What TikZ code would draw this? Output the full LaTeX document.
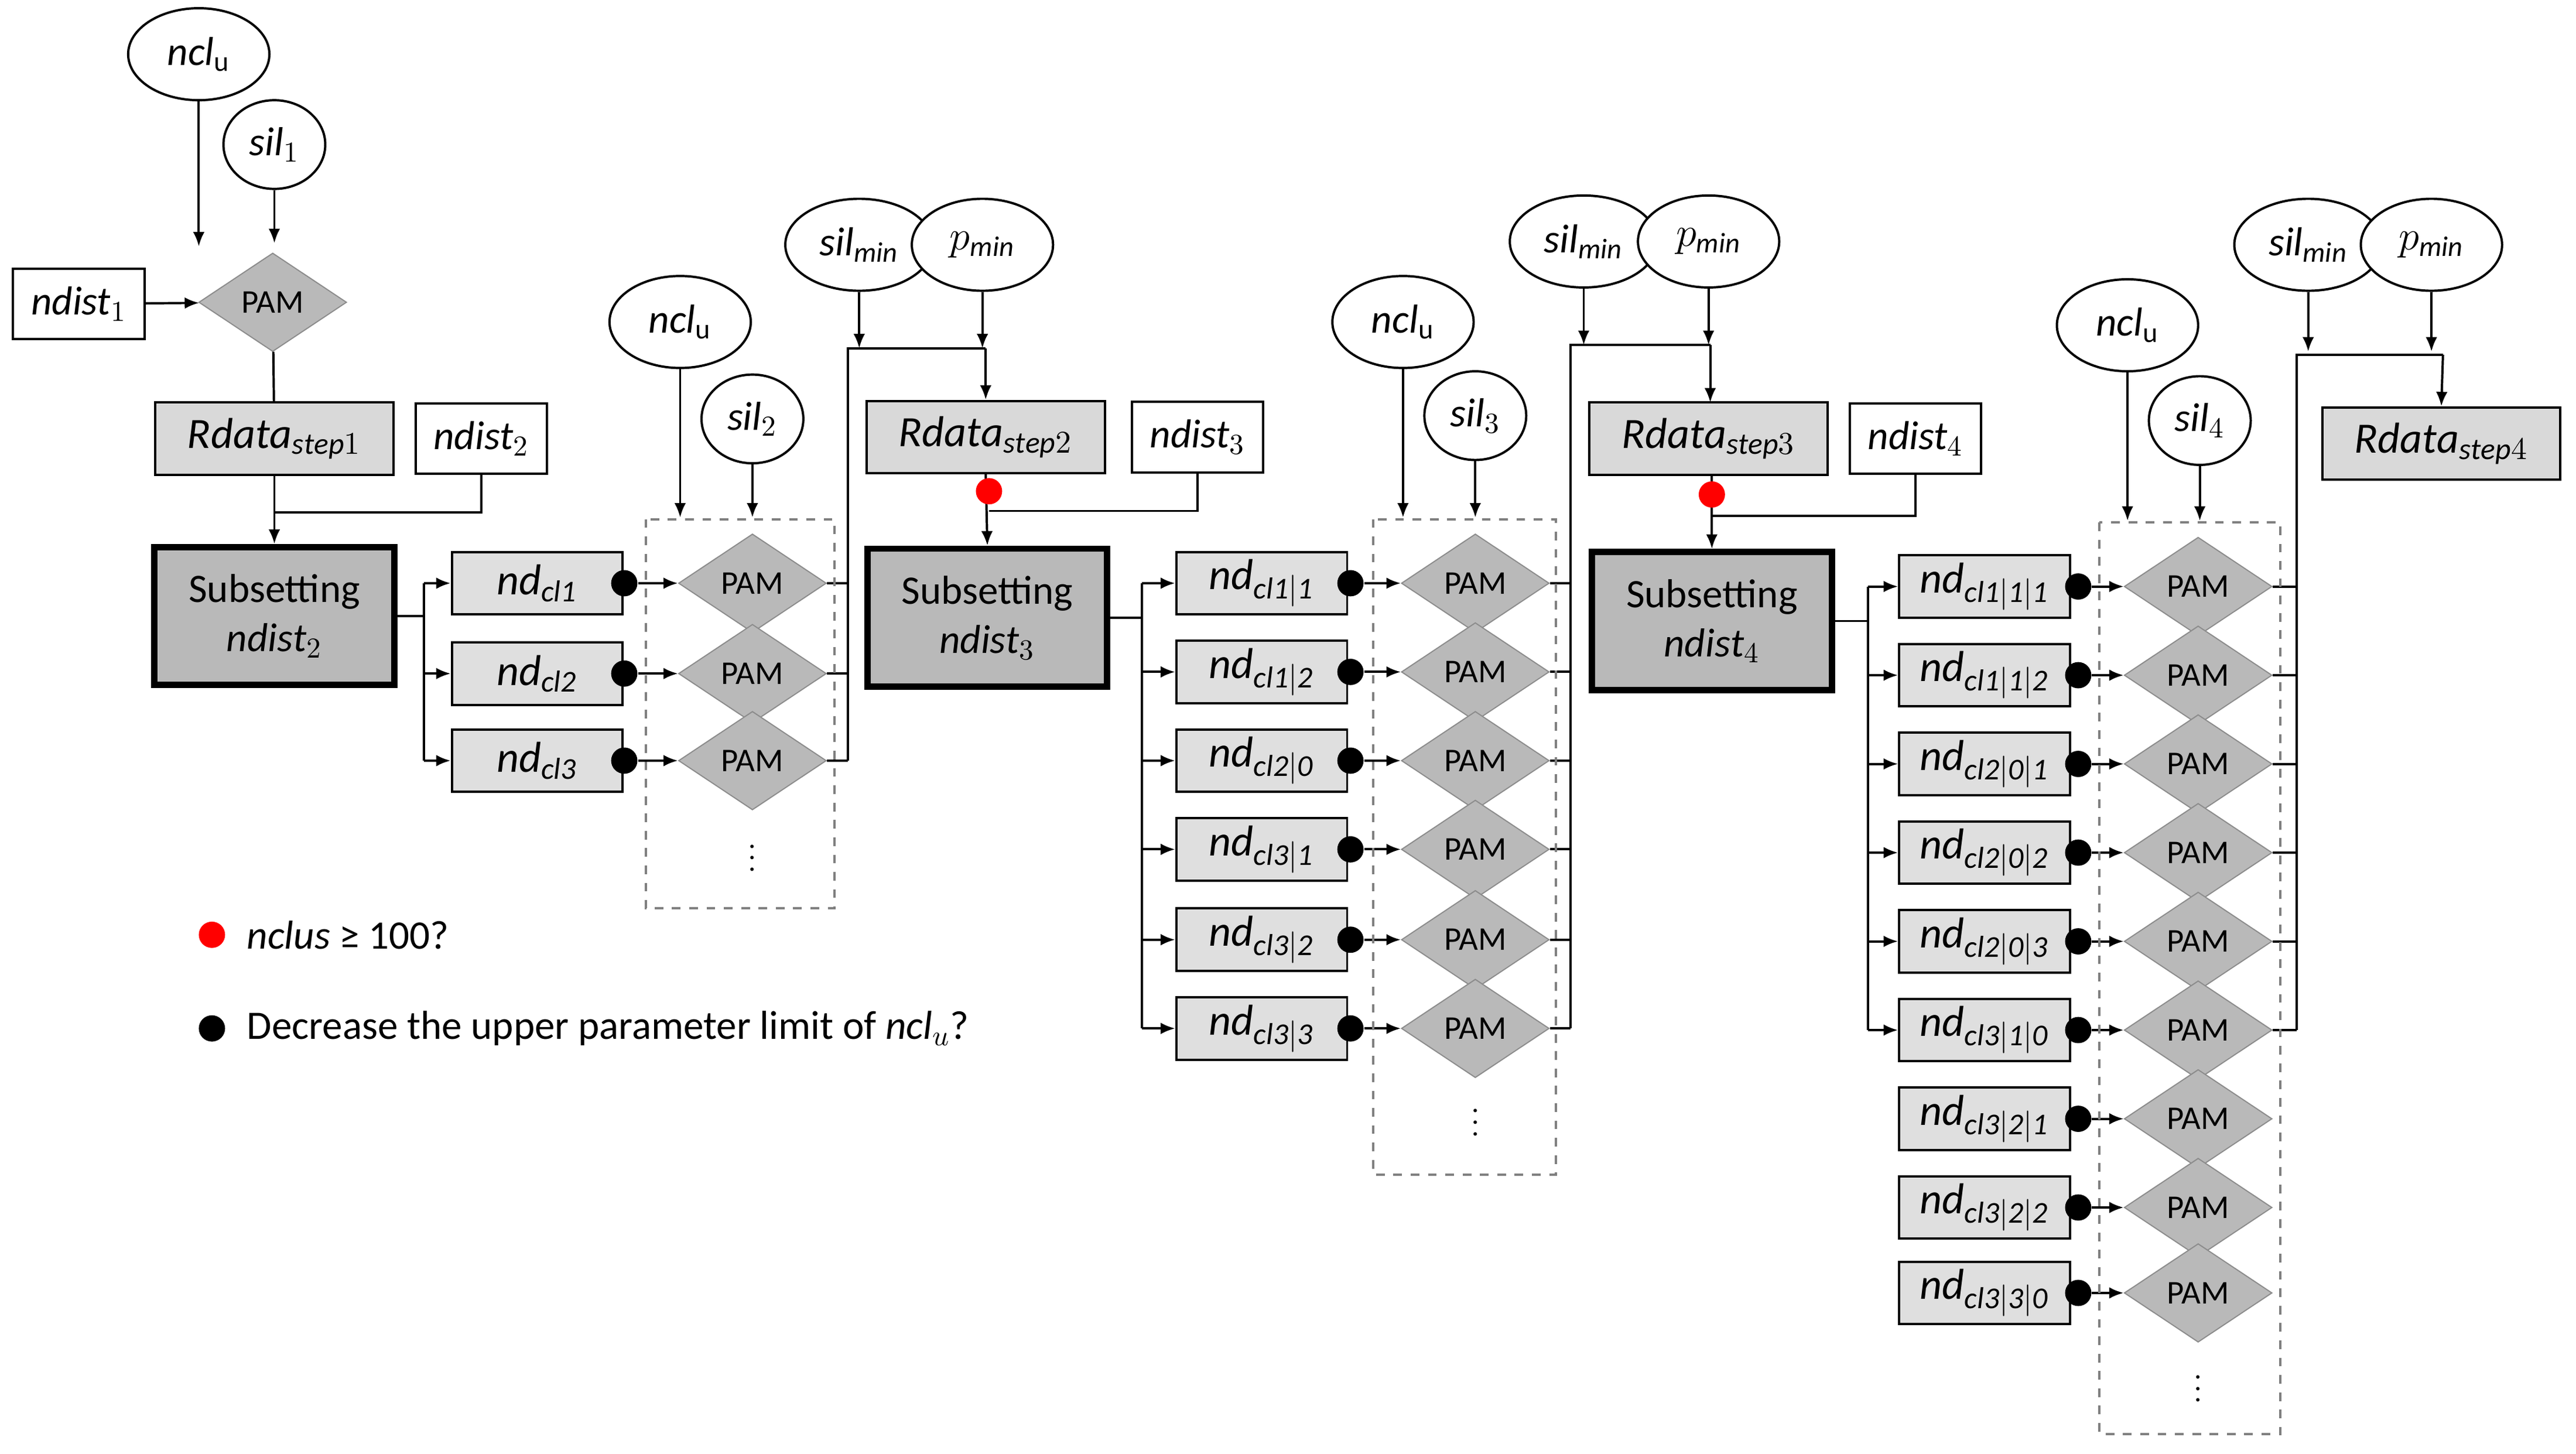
\documentclass[tikz,border=0pt]{standalone}
\usepackage{fontspec}
\setmainfont{Carlito}
\usetikzlibrary{shapes.geometric,arrows.meta}
\begin{document}
\begin{tikzpicture}[x=0.02cm,y=-0.02cm,
  every node/.style={inner sep=0pt},
  ell/.style={draw,thick,ellipse,minimum width=1.72cm,minimum height=1.12cm,fill=white,font=\fontsize{14}{16}\selectfont},
  sell/.style={ell,minimum width=1.24cm,minimum height=1.08cm},
  mell/.style={ell,minimum width=1.8cm},
  pam/.style={draw=gray!90,fill=gray!55,diamond,aspect=1.5,minimum width=1.8cm,minimum height=1.2cm,font=\fontsize{11.5}{13}\selectfont},
  wbox/.style={draw,thick,fill=white,minimum width=1.6cm,minimum height=0.86cm,font=\fontsize{14}{16}\selectfont},
  gbox/.style={draw,thick,fill=gray!30,minimum width=2.9cm,minimum height=0.88cm,font=\fontsize{15}{17}\selectfont},
  ndbox/.style={draw,thick,fill=gray!25,minimum width=2.08cm,minimum height=0.76cm,font=\fontsize{15}{17}\selectfont},
  sub/.style={draw,line width=2.2pt,fill=gray!55,minimum width=2.92cm,minimum height=1.68cm,align=center,font=\fontsize{14}{17}\selectfont},
  ar/.style={thick,-{Latex[length=5pt,width=4pt]}},
  ln/.style={thick},
  bd/.style={circle,fill=black,minimum size=0.32cm},
  rd/.style={circle,fill=red,minimum size=0.32cm},
  dbox/.style={draw=gray,dashed,thick}]
\useasboundingbox (0,0) rectangle (1568,885);
% ---------- stage 1
\node[ell] (nu1) at (121,33) {$\mathit{ncl}_{\mathrm u}$};
\node[sell] (s1) at (167,88) {$\mathit{sil}_1$};
\node[pam] (p0) at (166,184) {PAM};
\node[wbox] (nd1) at (48,185) {\textit{ndist}$_1$};
\coordinate (c1) at (121,150);
\coordinate (c2) at (167,148);
\draw[ar] (nu1) -- (c1);
\draw[ar] (s1) -- (c2);
\draw[ar] (nd1) -- (p0);
\node[gbox] (r1) at (167,267) {$\mathit{Rdata}_{\mathit{step}1}$};
\node[wbox] (nd2) at (293,267) {\textit{ndist}$_2$};
\draw[ln] (p0) -- (r1);
\node[sub] (S2) at (167,375) {Subsetting\\$\mathit{ndist}_2$};
\coordinate (j1) at (167,312);
\draw[ln] (nd2.south) |- (j1);
\draw[ar] (r1.south) -- (S2.north);

% ---------- stage 2 branch
\foreach \y/\l [count=\i] in {355/{cl1},410/{cl2},463/{cl3}}{
  \node[ndbox] (a\i) at (327,\y) {$\mathit{nd}_{\mathit{\l}}$};
  \node[pam] (pa\i) at (458,\y) {PAM};
  \node[bd] (da\i) at (380,\y) {};
  \draw[ar] (da\i) -- (pa\i);
  \coordinate (ba\i) at (258,\y);
  \draw[ar] (ba\i) -- (a\i);
  \coordinate (ea\i) at (516,\y);
  \draw[ln] (pa\i) -- (ea\i);
}
\draw[ln] (S2.east) -- (258,375);
\draw[ln] (ba1) -- (ba3);
\draw[dbox] (393,316) rectangle (508,553);
\node at (458,517) {$\vdots$};
\node[ell] (nu2) at (414,196) {$\mathit{ncl}_{\mathrm u}$};
\node[sell] (s2) at (458,255) {$\mathit{sil}_2$};
\draw[ar] (nu2) -- (414,315);
\draw[ar] (s2) -- (458,315);
\node[mell] (sm2) at (523,149) {$\mathit{sil}_{\mathit{min}}$};
\node[ell] (pm2) at (598,149) {$p_{\mathit{min}}$};
\node[gbox] (r2) at (600,266) {$\mathit{Rdata}_{\mathit{step}2}$};
\node[wbox] (nd3) at (729,266) {\textit{ndist}$_3$};
\coordinate (t2) at (516,212);
\draw[ln] (ea3) -- (t2) -- (600,212);
\draw[ar] (600,212) -- (r2.north);
\draw[ar] (sm2) -- (523,212);
\draw[ar] (pm2) -- (598,212);
\node[sub] (S3) at (601,376) {Subsetting\\$\mathit{ndist}_3$};
\draw[ln] (nd3.south) |- (602,311);
\draw[ar] (r2.south) -- (S3.north);
\node[rd] (red2) at (602,299) {};

% ---------- stage 3 branch
\foreach \y/\l [count=\i] in {355/{cl1|1},409/{cl1|2},463/{cl2|0},517/{cl3|1},572/{cl3|2},626/{cl3|3}}{
  \node[ndbox] (b\i) at (768,\y) {$\mathit{nd}_{\mathit{\l}}$};
  \node[pam] (pb\i) at (898,\y) {PAM};
  \node[bd] (db\i) at (822,\y) {};
  \draw[ar] (db\i) -- (pb\i);
  \coordinate (bb\i) at (695,\y);
  \draw[ar] (bb\i) -- (b\i);
  \coordinate (eb\i) at (956,\y);
  \draw[ln] (pb\i) -- (eb\i);
}
\draw[ln] (S3.east) -- (695,376);
\draw[ln] (bb1) -- (bb6);
\draw[dbox] (836,316) rectangle (947,715);
\node at (898,678) {$\vdots$};
\node[ell] (nu3) at (854,196) {$\mathit{ncl}_{\mathrm u}$};
\node[sell] (s3) at (898,253) {$\mathit{sil}_3$};
\draw[ar] (nu3) -- (854,315);
\draw[ar] (s3) -- (898,315);
\node[mell] (sm3) at (964,147) {$\mathit{sil}_{\mathit{min}}$};
\node[ell] (pm3) at (1040,147) {$p_{\mathit{min}}$};
\node[gbox] (r3) at (1040,267) {$\mathit{Rdata}_{\mathit{step}3}$};
\node[wbox] (nd4) at (1166,267) {\textit{ndist}$_4$};
\draw[ln] (eb6) -- (956,210) -- (1041,210);
\draw[ar] (1041,210) -- (1041,245);
\draw[ar] (sm3) -- (964,210);
\draw[ar] (pm3) -- (1040,210);
\node[sub] (S4) at (1042,378) {Subsetting\\$\mathit{ndist}_4$};
\draw[ln] (nd4.south) |- (1042,314);
\draw[ar] (1042,289) -- (S4.north);
\node[rd] (red3) at (1042,301) {};

% ---------- stage 4 branch
\foreach \y/\l [count=\i] in {357/{cl1|1|1},411/{cl1|1|2},465/{cl2|0|1},519/{cl2|0|2},573/{cl2|0|3},627/{cl3|1|0},681/{cl3|2|1},735/{cl3|2|2},787/{cl3|3|0}}{
  \node[ndbox] (c\i) at (1208,\y) {$\mathit{nd}_{\mathit{\l}}$};
  \node[pam] (pc\i) at (1338,\y) {PAM};
  \node[bd] (dc\i) at (1265,\y) {};
  \draw[ar] (dc\i) -- (pc\i);
}
\foreach \i in {1,...,6}{
  \coordinate (bc\i) at (1137,0|-c\i);
  \draw[ar] (bc\i) -- (c\i);
  \coordinate (ec\i) at (1398,0|-c\i);
  \draw[ln] (pc\i) -- (ec\i);
}
\draw[ln] (S4.east) -- (1137,378);
\draw[ln] (bc1) -- (bc6);
\draw[dbox] (1278,318) rectangle (1388,873);
\node at (1338,840) {$\vdots$};
\node[ell] (nu4) at (1295,198) {$\mathit{ncl}_{\mathrm u}$};
\node[sell] (s4) at (1339,256) {$\mathit{sil}_4$};
\draw[ar] (nu4) -- (1295,317);
\draw[ar] (s4) -- (1339,317);
\node[mell] (sm4) at (1405,149) {$\mathit{sil}_{\mathit{min}}$};
\node[ell] (pm4) at (1480,149) {$p_{\mathit{min}}$};
\node[gbox] (r4) at (1486,270) {$\mathit{Rdata}_{\mathit{step}4}$};
\draw[ln] (ec6) -- (1398,216) -- (1487,216);
\draw[ar] (1487,216) -- (r4.north);
\draw[ar] (sm4) -- (1405,214);
\draw[ar] (pm4) -- (1480,214);

% ---------- legend
\node[rd] (lr) at (129,569) {};
\node[anchor=west,font=\fontsize{14}{16}\selectfont] (lt1) at (150,569) {\textit{nclus} ≥ 100?};
\node[bd] (lb) at (129,626) {};
\node[anchor=west,font=\fontsize{14}{16}\selectfont] (lt2) at (150,626) {Decrease the upper parameter limit of \textit{ncl$_u$}?};
\end{tikzpicture}
\end{document}
